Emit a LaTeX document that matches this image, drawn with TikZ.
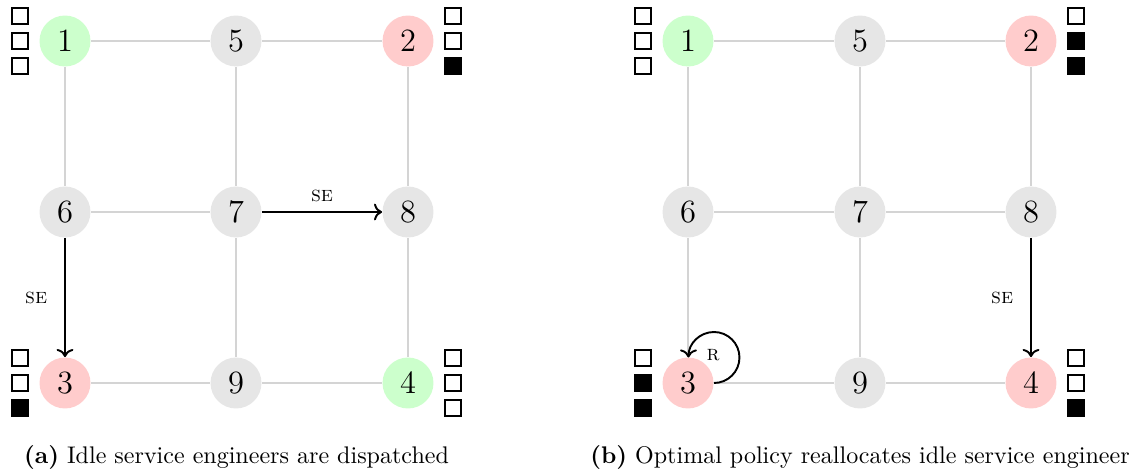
\documentclass[tikz,border=0pt]{standalone}
\usetikzlibrary{arrows.meta}
\definecolor{nodegreen}{HTML}{CCFFCC}
\definecolor{nodered}{HTML}{FFCCCC}
\definecolor{nodegray}{HTML}{E6E6E6}
\definecolor{gridline}{HTML}{D4D4D4}
\tikzset{
  site/.style={circle, inner sep=0pt, minimum size=21.2pt,
    font=\fontsize{13.5}{16}\selectfont},
  gsite/.style={site, fill=nodegreen},
  rsite/.style={site, fill=nodered},
  nsite/.style={site, fill=nodegray},
  link/.style={draw=gridline, line width=0.45pt},
  move/.style={->, thick},
  lbl/.style={font=\small, inner sep=2pt},
  emptybox/.style={draw, line width=0.6pt, minimum size=6.5pt, inner sep=0pt},
  fullbox/.style={emptybox, fill=black},
}
\begin{document}
\begin{tikzpicture}[x=0.416pt, y=-0.416pt]
\useasboundingbox (0,0) rectangle (1143,475);

% ---------- (a) ----------
\node[gsite] (a1) at (65,41) {1};
\node[nsite] (a5) at (236,41) {5};
\node[rsite] (a2) at (408,41) {2};
\node[nsite] (a6) at (65,212) {6};
\node[nsite] (a7) at (236,212) {7};
\node[nsite] (a8) at (408,212) {8};
\node[rsite] (a3) at (65,383) {3};
\node[nsite] (a9) at (236,383) {9};
\node[gsite] (a4) at (408,383) {4};
\draw[link] (a1) -- (a5) (a5) -- (a2) (a6) -- (a7) (a7) -- (a8) (a3) -- (a9) (a9) -- (a4)
  (a1) -- (a6) (a6) -- (a3) (a5) -- (a7) (a7) -- (a9) (a2) -- (a8) (a8) -- (a4);
\draw[move] (a7) -- node[lbl, above=2pt] {\textsc{se}} (a8);
\draw[move] (a6) -- node[lbl, left=5pt] {\textsc{se}} (a3);

\foreach \s [count=\k] in {emptybox,emptybox,emptybox}
  \node[\s] (a1q\k) at ([shift={(-45,{(\k-2)*25})}]a1.center) {};
\foreach \s [count=\k] in {emptybox,emptybox,fullbox}
  \node[\s] (a2q\k) at ([shift={(45,{(\k-2)*25})}]a2.center) {};
\foreach \s [count=\k] in {emptybox,emptybox,fullbox}
  \node[\s] (a3q\k) at ([shift={(-45,{(\k-2)*25})}]a3.center) {};
\foreach \s [count=\k] in {emptybox,emptybox,emptybox}
  \node[\s] (a4q\k) at ([shift={(45,{(\k-2)*25})}]a4.center) {};

\node[anchor=base, inner sep=0pt] (capa) at (236.5,463)
  {\textbf{(a)} Idle service engineers are dispatched};

% ---------- (b) ----------
\node[gsite] (b1) at (688,41) {1};
\node[nsite] (b5) at (860,41) {5};
\node[rsite] (b2) at (1031,41) {2};
\node[nsite] (b6) at (688,212) {6};
\node[nsite] (b7) at (860,212) {7};
\node[nsite] (b8) at (1031,212) {8};
\node[rsite] (b3) at (688,383) {3};
\node[nsite] (b9) at (860,383) {9};
\node[rsite] (b4) at (1031,383) {4};
\draw[link] (b1) -- (b5) (b5) -- (b2) (b6) -- (b7) (b7) -- (b8) (b3) -- (b9) (b9) -- (b4)
  (b1) -- (b6) (b6) -- (b3) (b5) -- (b7) (b7) -- (b9) (b2) -- (b8) (b8) -- (b4);
\draw[move] (b8) -- node[lbl, left=5pt] {\textsc{se}} (b4);
% self-loop: three-quarter circle from the east side round to the top
\draw[move] (b3.east) arc[start angle=90, end angle=-180, radius=25.5];
\node[lbl] (rlbl) at (713,355) {\textsc{r}};

\foreach \s [count=\k] in {emptybox,emptybox,emptybox}
  \node[\s] (b1q\k) at ([shift={(-45,{(\k-2)*25})}]b1.center) {};
\foreach \s [count=\k] in {emptybox,fullbox,fullbox}
  \node[\s] (b2q\k) at ([shift={(45,{(\k-2)*25})}]b2.center) {};
\foreach \s [count=\k] in {emptybox,fullbox,fullbox}
  \node[\s] (b3q\k) at ([shift={(-45,{(\k-2)*25})}]b3.center) {};
\foreach \s [count=\k] in {emptybox,emptybox,fullbox}
  \node[\s] (b4q\k) at ([shift={(45,{(\k-2)*25})}]b4.center) {};

\node[anchor=base, inner sep=0pt] (capb) at (860,463)
  {\textbf{(b)} Optimal policy reallocates idle service engineer};
\end{tikzpicture}
\end{document}
